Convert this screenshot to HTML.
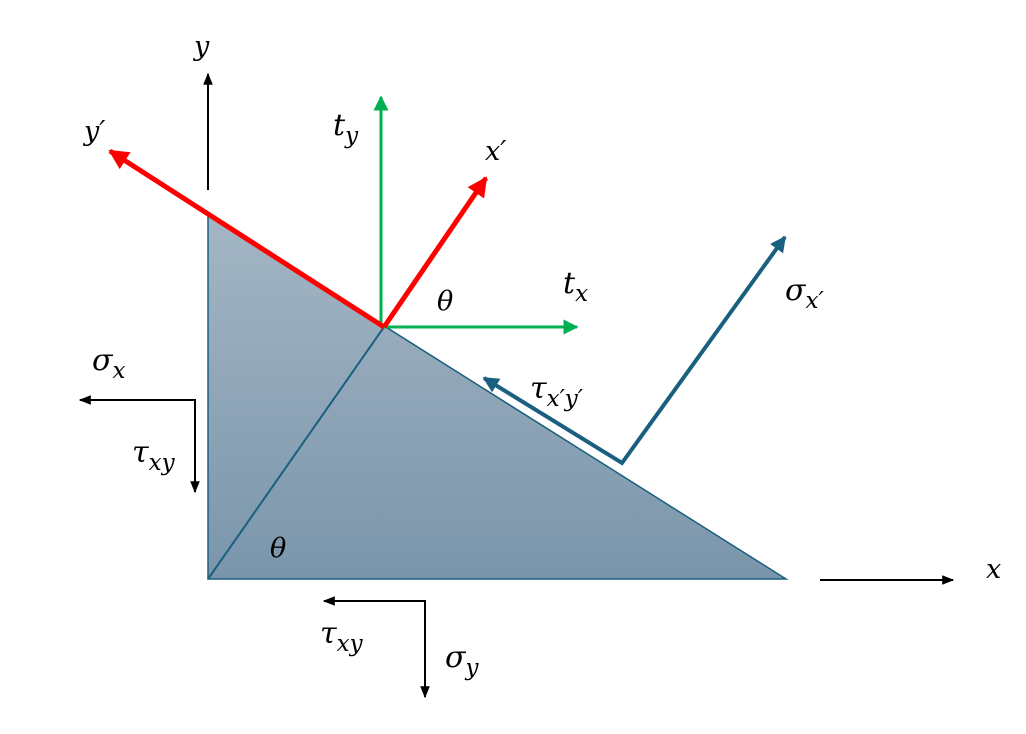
<!DOCTYPE html>
<html><head><meta charset="utf-8"><style>
body{margin:0;background:#fff;width:1026px;height:729px;overflow:hidden}
text{font-family:"DejaVu Serif","Liberation Serif",serif;font-style:italic;fill:#000}
</style></head><body>
<svg width="1026" height="729" viewBox="0 0 1026 729" xmlns="http://www.w3.org/2000/svg">
<defs>
<linearGradient id="g" x1="0" y1="0" x2="0" y2="1">
<stop offset="0" stop-color="#a4b6c4"/><stop offset="1" stop-color="#7a95ab"/></linearGradient>
<marker id="ak" viewBox="0 0 10 10" refX="9" refY="5" markerWidth="6" markerHeight="6" orient="auto-start-reverse"><path d="M0,1 L10,5 L0,9 z" fill="#000"/></marker>
<marker id="ar" viewBox="0 0 10 10" refX="9" refY="5" markerWidth="4" markerHeight="4" orient="auto-start-reverse"><path d="M0,0 L10,5 L0,10 z" fill="#f00"/></marker>
<marker id="ag" viewBox="0 0 10 10" refX="9" refY="5" markerWidth="5" markerHeight="5" orient="auto-start-reverse"><path d="M0,0 L10,5 L0,10 z" fill="#00b050"/></marker>
<marker id="ab" viewBox="0 0 10 10" refX="9" refY="5" markerWidth="4" markerHeight="4" orient="auto-start-reverse"><path d="M0,0 L10,5 L0,10 z" fill="#1a5f80"/></marker>
</defs>
<polygon points="208,215 208,579 786,579" fill="url(#g)" stroke="#1a5f80" stroke-width="1.5"/>
<line x1="208" y1="579" x2="384" y2="327" stroke="#1a5f80" stroke-width="2"/>
<line x1="208" y1="190" x2="208" y2="74" stroke="#000" stroke-width="2" marker-end="url(#ak)"/>
<line x1="820" y1="580" x2="953" y2="580" stroke="#000" stroke-width="2" marker-end="url(#ak)"/>
<polyline points="195,492 195,400 80,400" fill="none" stroke="#000" stroke-width="2" marker-start="url(#ak)" marker-end="url(#ak)"/>
<polyline points="425,697 425,601 324,601" fill="none" stroke="#000" stroke-width="2" marker-start="url(#ak)" marker-end="url(#ak)"/>
<line x1="381" y1="327" x2="381" y2="97" stroke="#00b050" stroke-width="3" marker-end="url(#ag)"/>
<line x1="381" y1="327" x2="577" y2="327" stroke="#00b050" stroke-width="3" marker-end="url(#ag)"/>
<line x1="384" y1="327" x2="110" y2="151" stroke="#f00" stroke-width="5" marker-end="url(#ar)"/>
<line x1="384" y1="327" x2="486" y2="178" stroke="#f00" stroke-width="5" marker-end="url(#ar)"/>
<polyline points="484,378 622,463 785,237" fill="none" stroke="#1a5f80" stroke-width="4" marker-start="url(#ab)" marker-end="url(#ab)"/>
<text x="194" y="55" font-size="27">y</text>
<text x="84" y="140" font-size="27">y′</text>
<text x="485" y="160" font-size="27">x′</text>
<text x="333" y="135" font-size="30">t<tspan font-size="23" dy="8">y</tspan></text>
<text x="563" y="293" font-size="30">t<tspan font-size="23" dy="8">x</tspan></text>
<text x="437" y="310" font-size="27">θ</text>
<text x="270" y="557" font-size="27">θ</text>
<text x="785" y="300" font-size="30">σ<tspan font-size="23" dy="8">x′</tspan></text>
<text x="530" y="398" font-size="30">τ<tspan font-size="23" dy="8">x′y′</tspan></text>
<text x="92" y="370" font-size="30">σ<tspan font-size="23" dy="8">x</tspan></text>
<text x="132" y="462" font-size="30">τ<tspan font-size="23" dy="8">xy</tspan></text>
<text x="320" y="643" font-size="30">τ<tspan font-size="23" dy="8">xy</tspan></text>
<text x="445" y="667" font-size="30">σ<tspan font-size="23" dy="8">y</tspan></text>
<text x="986" y="578" font-size="27">x</text>
</svg>
</body></html>
